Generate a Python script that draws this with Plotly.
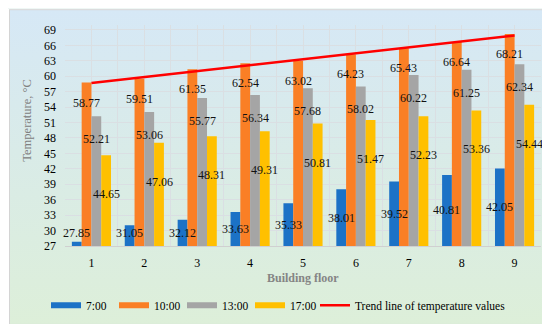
import base64
import plotly.graph_objects as go

# ---- data ----
floors = [1, 2, 3, 4, 5, 6, 7, 8, 9]
t_0700 = [27.85, 31.05, 32.12, 33.63, 35.33, 38.01, 39.52, 40.81, 42.05]
t_1000 = [58.77, 59.51, 61.35, 62.54, 63.02, 64.23, 65.43, 66.64, 68.21]
t_1300 = [52.21, 53.06, 55.77, 56.34, 57.68, 58.02, 60.22, 61.25, 62.34]
t_1700 = [44.65, 47.06, 48.31, 49.31, 50.81, 51.47, 52.23, 53.36, 54.44]
series_names = ["7:00", "10:00", "13:00", "17:00"]
trend_x = [1, 9]
trend_y = [58.68, 67.90]
y_ticks = [27, 30, 33, 36, 39, 42, 45, 48, 51, 54, 57, 60, 63, 66, 69]
x_title = "Building floor"
y_title = "Temperature, °C"
trend_name = "Trend line of temperature values"

# ---- style ----
colors = ["#1C72C6", "#FA7F25", "#A5A5A5", "#FFC000"]
FONT = "Liberation Serif, Times New Roman, serif"
W, H = 550, 324
ML, MR, MT, MB = 57, 17, 17, 83
PW, PH = W - ML - MR, H - MT - MB
Y0, Y1 = 27, 69.96

svg = f'''<svg xmlns="http://www.w3.org/2000/svg" width="{W}" height="{H}" viewBox="0 0 {W} {H}" preserveAspectRatio="none">
<defs><linearGradient id="g" x1="0" y1="0" x2="0" y2="1">
<stop offset="0" stop-color="#D6E8F6"/><stop offset="0.45" stop-color="#D9EBE8"/><stop offset="1" stop-color="#DDEFD9"/>
</linearGradient></defs>
<rect x="0" y="0" width="{W}" height="{H}" fill="#FFFFFF"/>
<rect x="1.5" y="1.5" width="{W-5}" height="{H-5}" fill="url(#g)" stroke="#D4D4D4" stroke-width="1"/>
</svg>'''
svg_uri = "data:image/svg+xml;base64," + base64.b64encode(svg.encode()).decode()

fig = go.Figure()
all_series = [t_0700, t_1000, t_1300, t_1700]
for name, vals, col in zip(series_names, all_series, colors):
    fig.add_trace(go.Bar(x=floors, y=vals, name=name, marker=dict(color=col, line=dict(width=0)),
                         showlegend=False, hoverinfo="x+y"))

fig.add_trace(go.Scatter(x=trend_x, y=trend_y, mode="lines", name=trend_name,
                         line=dict(color="#FF0000", width=2.5), showlegend=False))

# legend proxies (flat wide swatches like the original)
for name, col in zip(series_names, colors):
    fig.add_trace(go.Scatter(x=[None], y=[None], mode="lines", name=name,
                             line=dict(color=col, width=6), legend="legend"))
fig.add_trace(go.Scatter(x=[None], y=[None], mode="lines", name=trend_name,
                         line=dict(color="#FF0000", width=2.5), legend="legend2"))

# data labels
bar_px = PW / 9 * (1 - 0.26) / 4
xshifts = [-1.5 * bar_px, -0.5 * bar_px, 0.5 * bar_px, 1.5 * bar_px]
yshifts = [0, -20, -23, -39]
annotations = []
for si, vals in enumerate(all_series):
    for f, v in zip(floors, vals):
        if si == 0:
            yv = max((Y0 + v) / 2, 29.5)
            ys = 0
        else:
            yv = v
            ys = yshifts[si]
        annotations.append(dict(x=f, y=yv, xref="x", yref="y", text=f"{v:.2f}", showarrow=False,
                                xshift=xshifts[si], yshift=ys, font=dict(family=FONT, size=12, color="#111111"),
                                xanchor="center", yanchor="middle"))

annotations.append(dict(text=y_title, textangle=-90, xref="paper", yref="paper",
                        x=(19 - ML) / PW, y=(MT + PH - 114) / PH, showarrow=False,
                        xanchor="center", yanchor="middle",
                        font=dict(family=FONT, size=12.5, color="#808080")))
annotations.append(dict(text=f"<b>{x_title}</b>", xref="paper", yref="paper",
                        x=0.5, y=(MT + PH - 273) / PH, showarrow=False,
                        xanchor="center", yanchor="middle",
                        font=dict(family=FONT, size=12, color="#858585")))

leg_common = dict(orientation="h", xanchor="left", yanchor="middle", bgcolor="rgba(0,0,0,0)",
                  font=dict(family=FONT, size=11.5, color="#000000"), itemwidth=30,
                  y=(MT + PH - 301) / PH)

fig.update_layout(
    width=W, height=H,
    margin=dict(l=ML, r=MR, t=MT, b=MB),
    paper_bgcolor="#D9EBE8",
    plot_bgcolor="rgba(255,255,255,0.62)",
    barmode="group", bargap=0.26, bargroupgap=0,
    font=dict(family=FONT, size=12, color="#000000"),
    images=[dict(source=svg_uri, xref="paper", yref="paper",
                 x=-ML / PW, y=1 + MT / PH, sizex=W / PW, sizey=H / PH,
                 xanchor="left", yanchor="top", sizing="stretch", layer="below")],
    legend=dict(**leg_common, x=(38 - ML) / PW, entrywidth=23, entrywidthmode="pixels"),
    legend2=dict(**leg_common, x=(307 - ML) / PW),
    annotations=annotations,
    showlegend=True,
)
fig.update_xaxes(range=[0.5, 9.5], tickvals=floors, ticktext=[str(f) for f in floors],
                 showgrid=True, gridcolor="#DADFE3", gridwidth=1,
                 minor=dict(tickvals=[i + 0.5 for i in range(0, 10)], showgrid=True,
                            gridcolor="#DADFE3", gridwidth=1),
                 zeroline=False, showline=True, linecolor="#D0D0D0", ticks="",
                 ticklabelstandoff=6,
                 tickfont=dict(family=FONT, size=12, color="#000000"))
fig.update_yaxes(range=[Y0, Y1], tickvals=y_ticks, showgrid=True, gridcolor="#DADFE3",
                 gridwidth=1, zeroline=False, showline=False, ticks="",
                 ticklabelstandoff=8,
                 tickfont=dict(family=FONT, size=12, color="#000000"))

fig.write_html("out.html")
